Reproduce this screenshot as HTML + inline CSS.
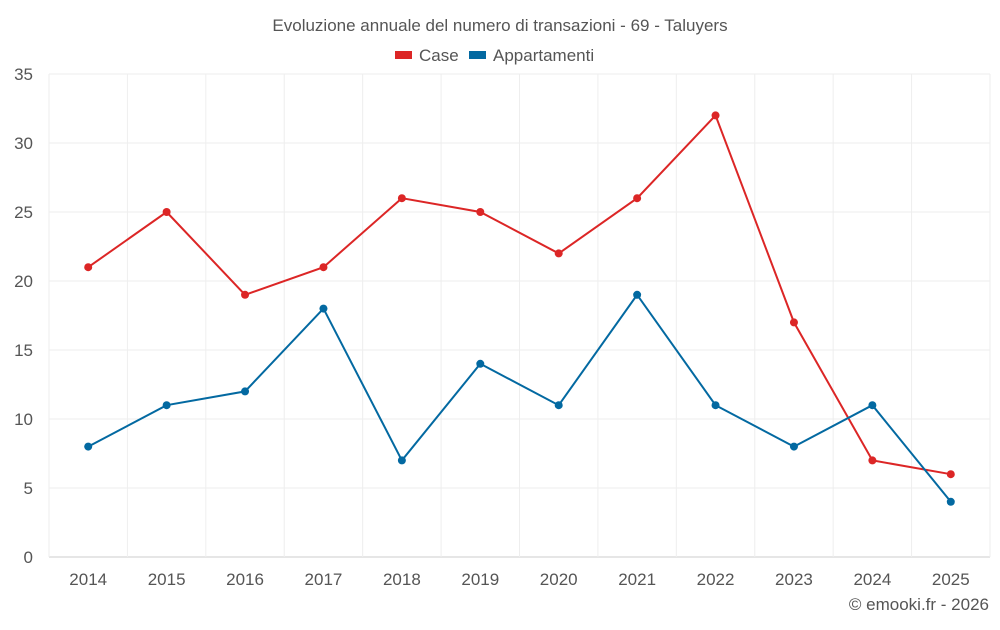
<!DOCTYPE html>
<html><head><meta charset="utf-8"><style>
body{margin:0;background:#fff;font-family:"Liberation Sans",sans-serif;}
svg text{font-family:"Liberation Sans",sans-serif;}
</style></head><body>
<svg id="chart" width="1000" height="625" xmlns="http://www.w3.org/2000/svg">
<text x="500" y="31" text-anchor="middle" font-size="17" fill="#555">Evoluzione annuale del numero di transazioni - 69 - Taluyers</text>
<g>
<g><rect x="395" y="51" width="17" height="8" fill="#dc2626"/><text x="419" y="61" font-size="17" fill="#555">Case</text></g>
<g><rect x="469" y="51" width="17" height="8" fill="#0369a1"/><text x="493" y="61" font-size="17" fill="#555">Appartamenti</text></g>
</g>
<g id="grid"></g><g id="axes"></g><g id="series"></g>
<text x="989" y="610" text-anchor="end" font-size="17" fill="#555">© emooki.fr - 2026</text>
</svg>
<script>
const years=["2014","2015","2016","2017","2018","2019","2020","2021","2022","2023","2024","2025"];
const caseValues=[21,25,19,21,26,25,22,26,32,17,7,6];
const appValues=[8,11,12,18,7,14,11,19,11,8,11,4];
const yTicks=[0,5,10,15,20,25,30,35];
const NS="http://www.w3.org/2000/svg";
const L=49,R=990,T=74,B=557,maxY=35;
const step=(R-L)/years.length;
const x=i=>L+step*(i+0.5);
const y=v=>B-(v/maxY)*(B-T);
function mk(tag,attrs,parent){const e=document.createElementNS(NS,tag);for(const k in attrs)e.setAttribute(k,attrs[k]);parent.appendChild(e);return e;}
const grid=document.getElementById('grid'),axes=document.getElementById('axes'),ser=document.getElementById('series');
yTicks.forEach(t=>{
 const g=mk('line',{x1:L,x2:R,y1:y(t),y2:y(t),stroke:t===0?'#ccc':'#eee','stroke-width':1},grid);
 
 
 const tx=mk('text',{x:33,y:y(t)+6,'text-anchor':'end','font-size':17,fill:'#555'},axes);
 tx.textContent=t;
 
 
});
for(let i=0;i<=years.length;i++){
 const g=mk('line',{x1:L+step*i,x2:L+step*i,y1:T,y2:B,stroke:'#eee','stroke-width':1},grid);
 
 
}
years.forEach((yr,i)=>{
 const tx=mk('text',{x:x(i),y:585,'text-anchor':'middle','font-size':17,fill:'#555'},axes);
 tx.textContent=yr;
 
 
});
function drawSeries(vals,color,name){
 const p=mk('polyline',{points:vals.map((v,i)=>x(i)+','+y(v)).join(' '),fill:'none',stroke:color,'stroke-width':2},ser);
 
 
 vals.forEach((v,i)=>{
  const c=mk('circle',{cx:x(i),cy:y(v),r:4,fill:color},ser);
  
  
 });
}
drawSeries(caseValues,'#dc2626','case');
drawSeries(appValues,'#0369a1','appartamenti');
</script>
</body></html>
